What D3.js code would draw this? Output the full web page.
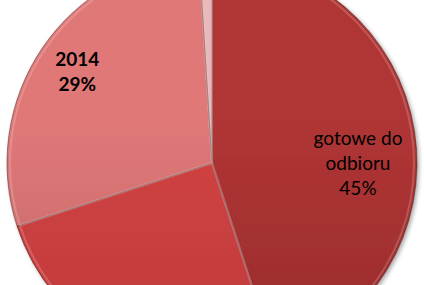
<!DOCTYPE html>
<html>
<head>
<meta charset="utf-8">
<script src="https://cdn.jsdelivr.net/npm/d3@7"></script>
<style>
html,body{margin:0;padding:0;background:#fff;overflow:hidden;}
svg{display:block;}
</style>
</head>
<body>
<svg id="chart" width="424" height="285"></svg>
<script>
// Data
const categories = ["gotowe do odbioru", "w realizacji", "2014", "inne"];
const values = [45, 25, 29, 1];
const labelLines = [["gotowe do", "odbioru", "45%"], [], ["2014", "29%"], []];
const labelBold = [false, false, true, false];

// Style / layout
const colorsTop = ["#b03535", "#d04343", "#e07878", "#ebb9b9"];
const colorsBot = ["#882424", "#b63434", "#ac5a5a", "#c99393"];
const cx = 212, cy = 163, R = 205;
const labelRadius = [146, 0, 163, 0];
const labelAngleShift = [0.16, 0, 0, 0];

const svg = d3.select("#chart");
const defs = svg.append("defs");

const f = defs.append("filter").attr("id", "shadow")
  .attr("x", "-10%").attr("y", "-10%").attr("width", "120%").attr("height", "120%");
f.append("feDropShadow").attr("dx", 2).attr("dy", 2).attr("stdDeviation", 2.2)
  .attr("flood-color", "#000").attr("flood-opacity", 0.35);

categories.forEach((c, i) => {
  const g = defs.append("linearGradient").attr("id", "g" + i)
    .attr("gradientUnits", "userSpaceOnUse")
    .attr("x1", 0).attr("y1", cy - R).attr("x2", 0).attr("y2", cy + R);
  g.append("stop").attr("offset", "0%").attr("stop-color", colorsTop[i]);
  g.append("stop").attr("offset", "100%").attr("stop-color", colorsBot[i]);
});

const pie = d3.pie().sort(null).value(d => d).startAngle(0).endAngle(2 * Math.PI);
const arcs = pie(values);
const arc = d3.arc().innerRadius(0).outerRadius(R);
const arcInner = d3.arc().innerRadius(0).outerRadius(R - 3);

const g = svg.append("g").attr("transform", `translate(${cx},${cy})`);

g.append("g").attr("filter", "url(#shadow)")
  .selectAll("path").data(arcs).join("path")
  .attr("d", arc)
  .attr("fill", (d, i) => `url(#g${i})`);

// bevel-like edges
g.selectAll("path.edge").data(arcs).join("path").attr("class", "edge")
  .attr("d", arc)
  .attr("fill", "none")
  .attr("stroke", "rgba(60,20,20,0.45)")
  .attr("stroke-width", 1);
g.selectAll("path.hl").data(arcs).join("path").attr("class", "hl")
  .attr("d", arcInner)
  .attr("fill", "none")
  .attr("stroke", "rgba(255,255,255,0.18)")
  .attr("stroke-width", 2);

// labels
arcs.forEach((d, i) => {
  const lines = labelLines[i];
  if (!lines.length) return;
  const a = (d.startAngle + d.endAngle) / 2 + labelAngleShift[i];
  const r = labelRadius[i];
  const x = Math.sin(a) * r, y = -Math.cos(a) * r;
  const lh = 25;
  const t = g.append("text")
    .attr("text-anchor", "middle")
    .attr("font-family", "Lato, 'Open Sans', sans-serif")
    .attr("font-size", 19)
    .attr("font-weight", labelBold[i] ? "bold" : "normal")
    .attr("fill", "#000");
  lines.forEach((l, k) => {
    t.append("tspan").attr("x", x)
      .attr("y", y + (k - (lines.length - 1) / 2) * lh)
      .attr("dy", "0.35em")
      .text(l);
  });
});
</script>
</body>
</html>
